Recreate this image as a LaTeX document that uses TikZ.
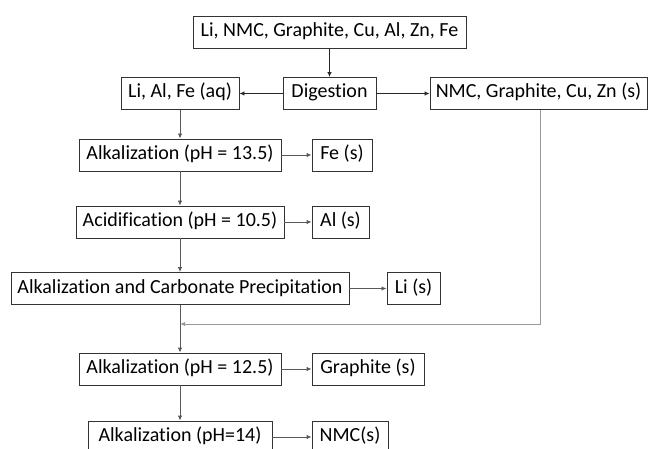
\documentclass[tikz,border=0pt]{standalone}
\usepackage{fontspec}
\setmainfont{Carlito}[Ligatures=NoCommon]
\usepackage{tikz}
\usetikzlibrary{arrows.meta}
\usetikzlibrary{positioning}

\begin{document}
\begin{tikzpicture}[x=1pt,y=-1pt]
\tikzset{
  stepBox/.style={
    rectangle,
                   draw=black!80,
                   line width=0.9pt,
                   minimum height=32pt,
                   inner sep=0pt,
                   text height=14pt,
                   text depth=5pt,
                   font=\fontsize{20}{24}\selectfont
    },
  flowArrow/.style={
    -{Latex[length=5pt,width=4.5pt]},
                   line width=0.9pt,
                   draw=black!65
    }
}
    \useasboundingbox (0,0) rectangle (648,449);
    \clip (0,0) rectangle (648,449);

    \node (feed)[stepBox, minimum width=273pt] at (329.5,32) {Li, NMC, Graphite, Cu, Al, Zn, Fe};
    \node (dig)[stepBox, minimum width=93pt] at (329.5,93.5) {Digestion};
    \node (aq)[stepBox, minimum width=118pt] at (180,93.5) {Li, Al, Fe (aq)};
    \node (sol)[stepBox, minimum width=217pt] at (538.5,93.5) {NMC, Graphite, Cu, Zn (s)};
    \node (alkA)[stepBox, minimum width=202pt] at (180,155) {Alkalization (pH = 13.5)};
    \node (fe)[stepBox, minimum width=60pt] at (342,155) {Fe (s)};
    \node (acid)[stepBox, minimum width=208pt] at (180,222) {Acidification (pH = 10.5)};
    \node (al)[stepBox, minimum width=57pt] at (340.5,222) {Al (s)};
    \node (carb)[stepBox, minimum width=338pt] at (180,288.5) {Alkalization and Carbonate Precipitation};
    \node (li)[stepBox, minimum width=53pt] at (413.5,288.5) {Li (s)};
    \coordinate (merge) at (180,324);
    \node (alkB)[stepBox, minimum width=202pt] at (180,369) {Alkalization (pH = 12.5)};
    \node (gra)[stepBox, minimum width=112pt] at (368,369) {Graphite (s)};
    \node (alkC)[stepBox, minimum width=184pt] at (180,437) {Alkalization (pH=14)};
    \node (nmc)[stepBox, minimum width=76pt] at (350,437) {NMC(s)};

    \draw[flowArrow, draw=black!85] (feed) -- (dig);
    \draw[flowArrow, draw=black!85] (dig) -- (aq);
    \draw[flowArrow, draw=black!85] (dig) -- (sol);
    \draw[flowArrow] (aq) -- (alkA);
    \draw[flowArrow] (alkA) -- (fe);
    \draw[flowArrow] (alkA) -- (acid);
    \draw[flowArrow] (acid) -- (al);
    \draw[flowArrow] (acid) -- (carb);
    \draw[flowArrow] (carb) -- (li);
    \draw[flowArrow] (carb) -- (alkB);
    \draw[flowArrow, draw=black!40] ([xshift=1.5pt]sol.south) |- (merge);
    \draw[flowArrow] (alkB) -- (gra);
    \draw[flowArrow] (alkB) -- (alkC);
    \draw[flowArrow] (alkC) -- (nmc);

\end{tikzpicture}
\end{document}
